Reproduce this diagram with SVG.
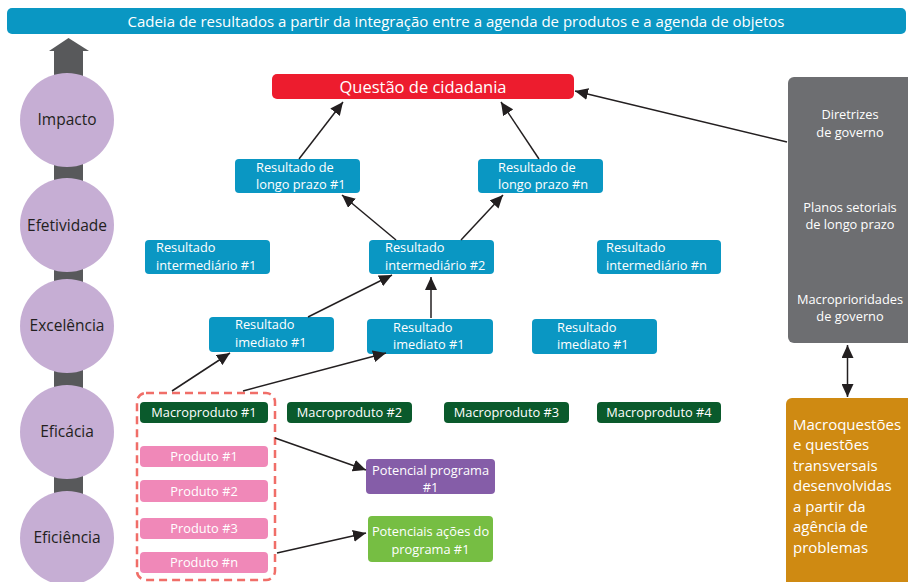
<svg xmlns="http://www.w3.org/2000/svg" width="908" height="582" viewBox="0 0 908 582">
<defs>
<marker id="ah" markerUnits="userSpaceOnUse" markerWidth="14" markerHeight="12" refX="13" refY="6" orient="auto">
<path d="M0,0 L13,6 L0,12 z" fill="#231f20"/>
</marker>
<marker id="ahs" markerUnits="userSpaceOnUse" markerWidth="14" markerHeight="12" refX="1" refY="6" orient="auto">
<path d="M14,0 L1,6 L14,12 z" fill="#231f20"/>
</marker>
<style>
text{font-family:"Open Sans","Liberation Sans",sans-serif;}
.w{fill:#fff;font-size:12.8px;}
.wc{fill:#fff;font-size:12.8px;text-anchor:middle;}
.lvl{fill:#231f20;font-size:15.5px;text-anchor:middle;}
.teal{fill:#0a97c3;}
.mac{fill:#0a5a2c;}
.prod{fill:#f088b8;}
.circ{fill:#c6aed4;}
.edge{stroke:#231f20;stroke-width:1.5;fill:none;marker-end:url(#ah);}
</style>
</defs>

<g id="title">
<rect x="7" y="8" width="899" height="26" rx="5" class="teal"/>
<text x="456" y="26.5" fill="#fff" font-size="15" text-anchor="middle">Cadeia de resultados a partir da integração entre a agenda de produtos e a agenda de objetos</text>
</g>

<g id="levels">
<rect x="54" y="50" width="29" height="532" fill="#58595b"/>
<path d="M49,51 L68.5,38 L89,51 z" fill="#58595b"/>
<g id="impacto"><circle cx="67" cy="120" r="47" class="circ"/><text x="67" y="125" class="lvl">Impacto</text></g>
<g id="efetividade"><circle cx="67" cy="225" r="47" class="circ"/><text x="67" y="231" class="lvl">Efetividade</text></g>
<g id="excelencia"><circle cx="67" cy="326" r="47" class="circ"/><text x="67" y="331" class="lvl">Excelência</text></g>
<g id="eficacia"><circle cx="67" cy="432" r="47" class="circ"/><text x="67" y="437" class="lvl">Eficácia</text></g>
<g id="eficiencia"><circle cx="67" cy="538" r="47" class="circ"/><text x="67" y="543" class="lvl">Eficiência</text></g>
</g>

<g id="questao">
<rect x="272" y="74" width="302" height="25" rx="5" fill="#ed1c2e"/>
<text x="423" y="92.5" fill="#fff" font-size="16.5" text-anchor="middle">Questão de cidadania</text>
</g>

<g id="lp1">
<rect x="235" y="159" width="125" height="34" rx="4" class="teal"/>
<text x="256" y="171.5" class="w">Resultado de</text>
<text x="256" y="189" class="w">longo prazo #1</text>
</g>
<g id="lpn">
<rect x="478" y="159" width="125" height="34" rx="4" class="teal"/>
<text x="498" y="171.5" class="w">Resultado de</text>
<text x="498" y="189" class="w">longo prazo #n</text>
</g>

<g id="int1">
<rect x="145" y="240" width="125" height="34" rx="4" class="teal"/>
<text x="156" y="252" class="w">Resultado</text>
<text x="156" y="269.5" class="w">intermediário #1</text>
</g>
<g id="int2">
<rect x="369" y="240" width="125" height="34" rx="4" class="teal"/>
<text x="385" y="252" class="w">Resultado</text>
<text x="385" y="269.5" class="w">intermediário #2</text>
</g>
<g id="intn">
<rect x="597" y="240" width="124" height="34" rx="4" class="teal"/>
<text x="606" y="252" class="w">Resultado</text>
<text x="606" y="269.5" class="w">intermediário #n</text>
</g>

<g id="im1">
<rect x="209" y="317" width="125" height="35" rx="4" class="teal"/>
<text x="235" y="329.3" class="w">Resultado</text>
<text x="235" y="346.8" class="w">imediato #1</text>
</g>
<g id="im2">
<rect x="367" y="319" width="126" height="35" rx="4" class="teal"/>
<text x="393" y="331.5" class="w">Resultado</text>
<text x="393" y="349" class="w">imediato #1</text>
</g>
<g id="im3">
<rect x="532" y="319" width="125" height="35" rx="4" class="teal"/>
<text x="557" y="331.5" class="w">Resultado</text>
<text x="557" y="349" class="w">imediato #1</text>
</g>

<g id="group1">
<rect x="137" y="393" width="138" height="187" rx="9" fill="none" stroke="#f06e68" stroke-width="2.5" stroke-dasharray="8 5"/>
</g>

<g id="macro1"><rect x="140" y="402" width="128" height="21" rx="4" class="mac"/><text x="204" y="417" class="wc">Macroproduto #1</text></g>
<g id="macro2"><rect x="287" y="402" width="125" height="21" rx="4" class="mac"/><text x="349.5" y="417" class="wc">Macroproduto #2</text></g>
<g id="macro3"><rect x="444" y="402" width="125" height="21" rx="4" class="mac"/><text x="506.5" y="417" class="wc">Macroproduto #3</text></g>
<g id="macro4"><rect x="597" y="402" width="124" height="21" rx="4" class="mac"/><text x="659" y="417" class="wc">Macroproduto #4</text></g>

<g id="prod1"><rect x="140" y="446" width="128" height="21" rx="4" class="prod"/><text x="204" y="461" class="wc">Produto #1</text></g>
<g id="prod2"><rect x="140" y="480" width="128" height="22" rx="4" class="prod"/><text x="204" y="495.5" class="wc">Produto #2</text></g>
<g id="prod3"><rect x="140" y="518" width="128" height="21" rx="4" class="prod"/><text x="204" y="533" class="wc">Produto #3</text></g>
<g id="prodn"><rect x="140" y="552" width="128" height="21" rx="4" class="prod"/><text x="204" y="567" class="wc">Produto #n</text></g>

<g id="programa">
<rect x="366" y="459" width="129" height="35" rx="4" fill="#855da8"/>
<text x="430.5" y="474.5" class="wc">Potencial programa</text>
<text x="430.5" y="492" class="wc">#1</text>
</g>
<g id="acoes">
<rect x="368" y="516" width="125" height="46" rx="4" fill="#76be43"/>
<text x="430.5" y="536" class="wc">Potenciais ações do</text>
<text x="430.5" y="553.5" class="wc">programa #1</text>
</g>

<g id="governo">
<rect x="788" y="77" width="130" height="266" rx="6" fill="#6d6e71"/>
<text x="850" y="119.3" class="wc">Diretrizes</text>
<text x="850" y="136.8" class="wc">de governo</text>
<text x="850" y="211.5" class="wc">Planos setoriais</text>
<text x="850" y="229" class="wc">de longo prazo</text>
<text x="850" y="303.5" class="wc">Macroprioridades</text>
<text x="850" y="321" class="wc">de governo</text>
</g>

<g id="macroquestoes">
<rect x="786" y="398" width="132" height="194" rx="6" fill="#cf8a12"/>
<g fill="#fff" font-size="15">
<text x="793" y="429.5">Macroquestões</text>
<text x="793" y="450">e questões</text>
<text x="793" y="470.5">transversais</text>
<text x="793" y="491">desenvolvidas</text>
<text x="793" y="511.5">a partir da</text>
<text x="793" y="532">agência de</text>
<text x="793" y="552.5">problemas</text>
</g>
</g>

<g id="connectors">
<line x1="299" y1="159" x2="343" y2="102" class="edge"/>
<line x1="539" y1="159" x2="501" y2="102" class="edge"/>
<line x1="787" y1="142" x2="575" y2="91" class="edge"/>
<line x1="396" y1="240" x2="342" y2="195" class="edge"/>
<line x1="461" y1="240" x2="503" y2="195" class="edge"/>
<line x1="308" y1="317" x2="392" y2="275" class="edge"/>
<line x1="431" y1="318" x2="431" y2="277" class="edge"/>
<line x1="172" y1="391" x2="230" y2="353" class="edge"/>
<line x1="243" y1="391" x2="386" y2="353" class="edge"/>
<line x1="275" y1="438" x2="366" y2="470" class="edge"/>
<line x1="277" y1="553" x2="366" y2="533" class="edge"/>
<line x1="847.5" y1="345" x2="847.5" y2="397" class="edge" marker-start="url(#ahs)"/>
</g>
</svg>
